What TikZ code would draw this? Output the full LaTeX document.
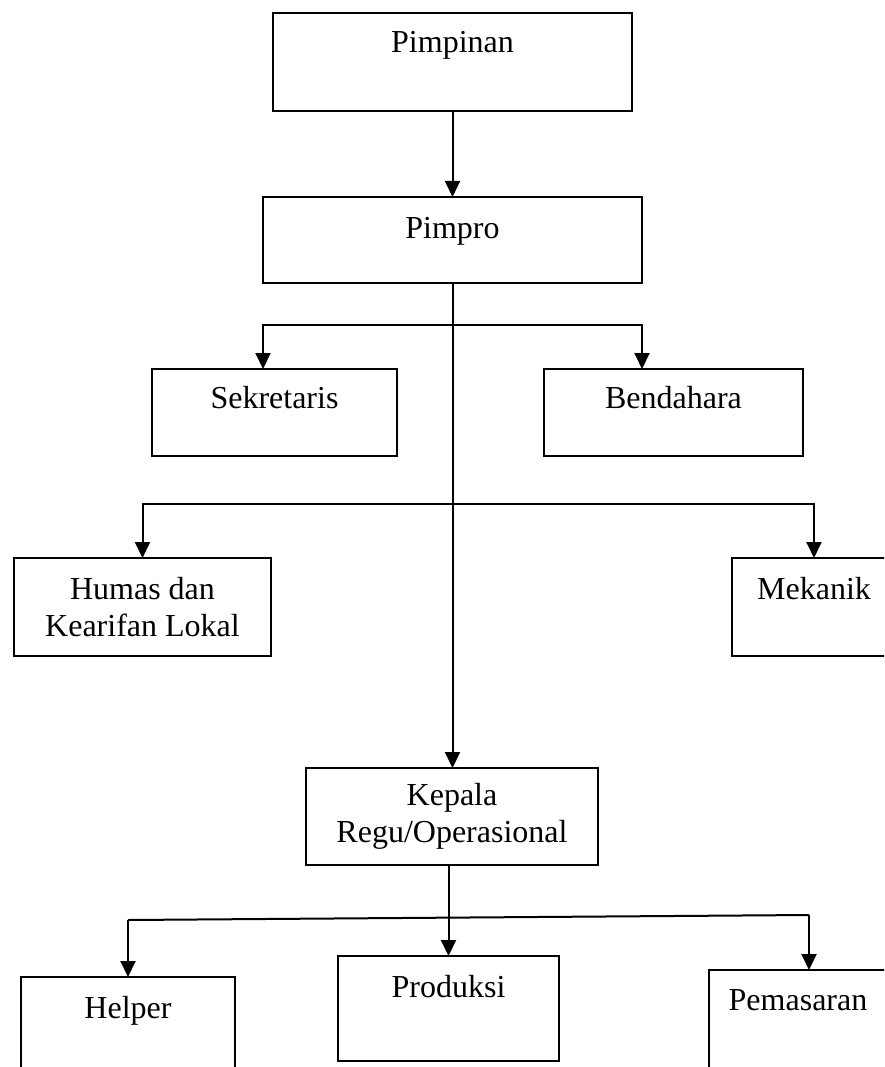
\documentclass[tikz,border=0pt]{standalone}
\usepackage{fontspec}
\setmainfont{Liberation Serif}
\usetikzlibrary{arrows.meta}

\begin{document}
\begin{tikzpicture}[
  x=1pt, y=-1pt,
  font=\fontsize{32}{36.8}\selectfont,
  box/.style={draw, line width=2pt, rectangle, inner sep=0pt, outer sep=0pt,
              anchor=north west, align=center},
  link/.style={line width=2pt},
  arr/.style={line width=2pt, -{Triangle[width=15pt,length=16pt]}}
]
\useasboundingbox (0,0) rectangle (884,1067);
\fill[white] (0,0) rectangle (884,1067);

\begin{scope}
\clip (0,0) rectangle (884,1067);

% top levels
\node[box, minimum width=359pt, text height=40pt, text depth=58pt] (pimpinan) at (273,13) {Pimpinan};
\node[box, minimum width=379pt, text height=42pt, text depth=44pt] (pimpro) at (263,197) {Pimpro};

% staff
\node[box, minimum width=245pt, text height=39pt, text depth=48pt] (sekretaris) at (152,369) {Sekretaris};
\node[box, minimum width=259pt, text height=39pt, text depth=48pt] (bendahara) at (544,369) {Bendahara};

\node[box, minimum width=257pt, minimum height=98pt] (humas) at (14,558) {Humas dan\\Kearifan Lokal};
\node[box, minimum width=164pt, text height=41pt, text depth=57pt] (mekanik) at (732,558) {Mekanik};

% operations
\node[box, minimum width=292pt, minimum height=97pt] (kepala) at (306,768) {Kepala\\Regu/Operasional};

\node[box, minimum width=214pt, text height=41pt, text depth=79pt] (helper) at (21,977) {Helper};
\node[box, minimum width=221pt, text height=41pt, text depth=64pt] (produksi) at (338,956) {Produksi};
\node[box, minimum width=178pt, text height=40pt, text depth=80pt] (pemasaran) at (709,970) {Pemasaran};

% junction points
\coordinate (b1) at (pimpro.south |- 0,325);
\coordinate (b2) at (pimpro.south |- 0,504);
\coordinate (hl) at (helper.north |- 0,920);
\coordinate (hr) at (809,915);

% connectors
\draw[arr] (pimpinan.south) -- (pimpinan.south |- pimpro.north);
\draw[arr] (pimpro.south) -- (pimpro.south |- kepala.north);

\draw[arr] (b1) -| (pimpro.west |- sekretaris.north);
\draw[arr] (b1) -| (pimpro.east |- bendahara.north);

\draw[arr] (b2) -| (humas.north);
\draw[arr] (b2) -| (mekanik.north);

\draw[arr] (kepala.south -| produksi.north) -- (produksi.north);
\draw[link] (hl) -- (hr);
\draw[arr] (hl) -- (helper.north);
\draw[arr] (hr) -- (hr |- pemasaran.north);
\end{scope}
\end{tikzpicture}
\end{document}
